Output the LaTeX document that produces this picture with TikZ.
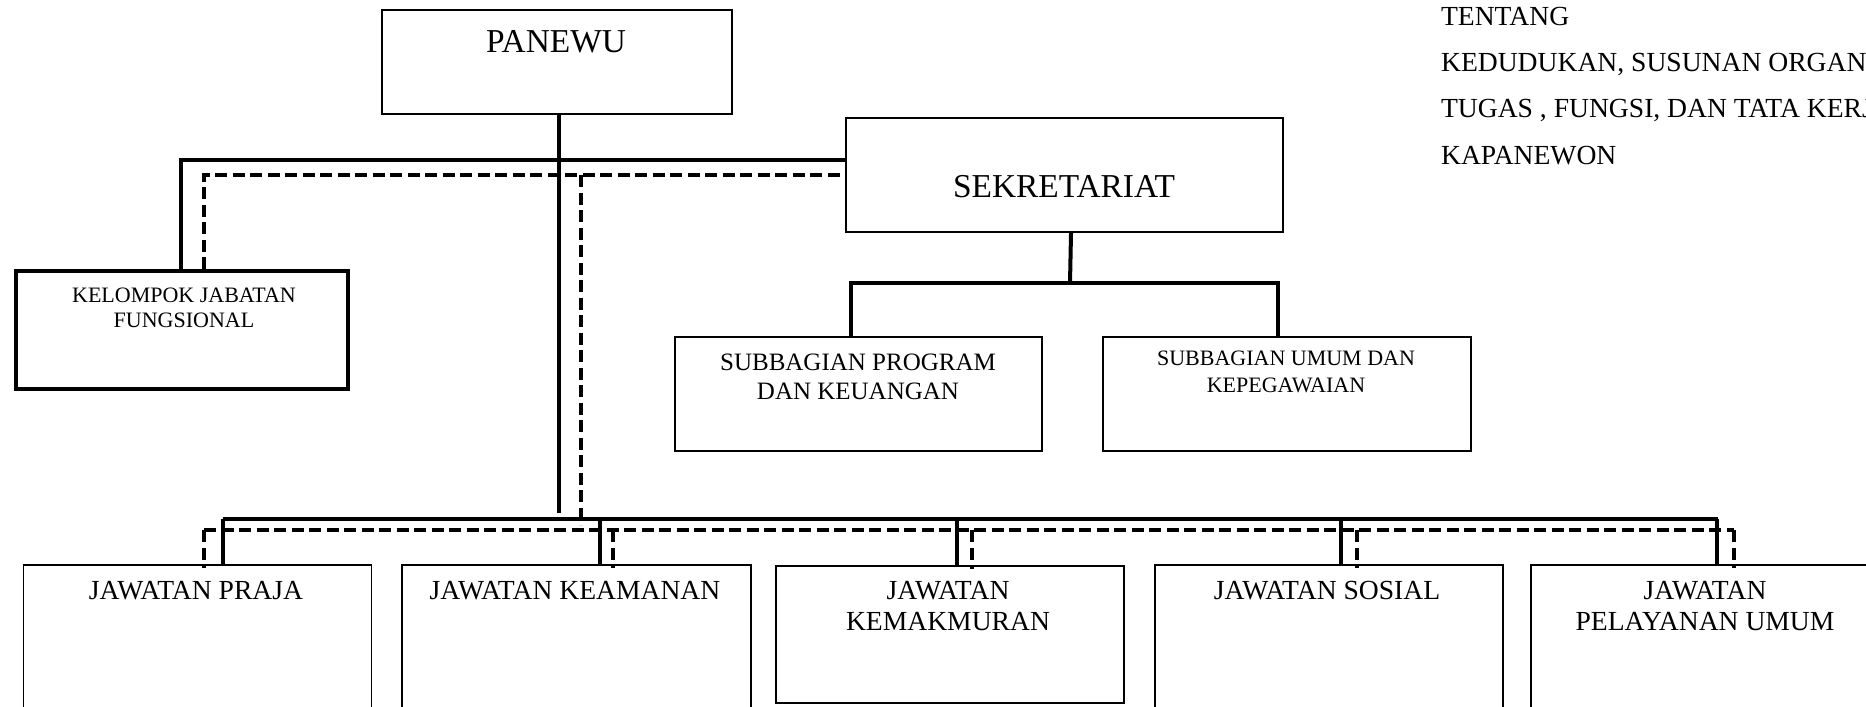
\documentclass[tikz,border=0pt]{standalone}
\usepackage{fontspec}
\setmainfont{Liberation Serif}
\usetikzlibrary{positioning}

\tikzset{
	kotak/.style={draw, line width=0.8pt, anchor=north west, inner sep=0pt},
	garis/.style={line width=2pt},
	putus/.style={line width=1.8pt, dash pattern=on 6pt off 2.75pt},
	tbesar/.style={font=\fontsize{16.7}{20}\selectfont},
	tjawatan/.style={align=center, font=\fontsize{13.8}{15.5}\selectfont},
}

\begin{document}
\begin{tikzpicture}[x=0.5pt,y=-0.5pt]
	\useasboundingbox (0,0) rectangle (1866,706);
	\clip (0,0) rectangle (1866,706);
	% kotak atas
	\node[kotak, minimum width=175pt, minimum height=52pt] (panewu) at (381,9.5) {};
	\node[kotak, line width=1pt, minimum width=218.5pt, minimum height=57pt] (sekr) at (845,117) {};
	\node[kotak, line width=2pt, minimum width=166pt, minimum height=59pt] (kjf) at (14,269) {};
	\node[kotak, minimum width=183.5pt, minimum height=57pt] (spk) at (674,336) {};
	\node[kotak, minimum width=184pt, minimum height=57pt] (suk) at (1102,336) {};
	% kotak jawatan
	\node[kotak, minimum width=174pt, minimum height=80pt] (praja) at (22.6,564) {};
	\node[kotak, minimum width=174.5pt, minimum height=80pt] (keamanan) at (401,564) {};
	\node[kotak, minimum width=174pt, minimum height=68.5pt] (kemakmuran) at (775,565) {};
	\node[kotak, minimum width=174pt, minimum height=80pt] (sosial) at (1154,564) {};
	\node[kotak, minimum width=174pt, minimum height=80pt] (pelayanan) at (1530,564) {};
	% teks
	\node[tbesar] (panewu-t) at (556,42) {PANEWU};
	\node[tbesar] (sekr-t) at (1064,187) {SEKRETARIAT};
	\node[align=center, font=\fontsize{11}{12.5}\selectfont] (kjf-t) at (184,307.5) {KELOMPOK JABATAN\\FUNGSIONAL};
	\node[align=center, font=\fontsize{12.5}{14.75}\selectfont] (spk-t) at (858,377) {SUBBAGIAN PROGRAM\\DAN KEUANGAN};
	\node[align=center, font=\fontsize{11}{13.75}\selectfont] (suk-t) at (1286,372) {SUBBAGIAN UMUM DAN\\KEPEGAWAIAN};
	\node[tjawatan] (praja-t) at (196,591) {JAWATAN PRAJA};
	\node[tjawatan] (keamanan-t) at (575,591) {JAWATAN KEAMANAN};
	\node[tjawatan] (kemakmuran-t) at (948,606.5) {JAWATAN\\KEMAKMURAN};
	\node[tjawatan] (sosial-t) at (1327,591) {JAWATAN SOSIAL};
	\node[tjawatan] (pelayanan-t) at (1705,606.5) {JAWATAN\\PELAYANAN UMUM};
	% judul kanan
	\node[tjawatan, anchor=base west] (judul1) at (1434,26) {TENTANG};
	\node[tjawatan, anchor=base west] (judul2) at (1434,72) {KEDUDUKAN, SUSUNAN ORGANISASI,};
	\node[tjawatan, anchor=base west] (judul3) at (1434,118) {TUGAS , FUNGSI, DAN TATA KERJA};
	\node[tjawatan, anchor=base west] (judul4) at (1434,164) {KAPANEWON};
	% garis
	\coordinate (atas) at (0,159.5);
	\coordinate (atasp) at (0,175);
	\coordinate (ujung) at (559,513);
	\coordinate (ujungp) at (581,525);
	\coordinate (cabang) at (1070,283);
	\draw[garis] ([xshift=-0.75pt]kjf.north) |- (atas -| sekr.west);
	\draw[putus] ([xshift=11pt]kjf.north) |- (atasp -| sekr.west);
	\draw[garis] (ujung |- panewu.south) -- (ujung);
	\draw[putus] (ujungp |- atasp) -- (ujungp);
	\draw[garis] ([xshift=3.25pt]sekr.south) -- (cabang);
	\draw[garis] ([xshift=-3.75pt]spk.north) |- (cabang) -| ([xshift=-4.5pt]suk.north);
	% garis bawah
	\draw[garis] (222.5,519) -- (1718,519);
	\draw[putus] (204,530) -- (1734,530);
	\draw[garis] (222.5,519) -- (222.5,519 |- praja.north);
	\draw[garis] (600,519) -- (600,519 |- keamanan.north);
	\draw[garis] (957,519) -- (957,519 |- kemakmuran.north);
	\draw[garis] (1341,519) -- (1341,519 |- sosial.north);
	\draw[garis] (1717,519) -- (1717,519 |- pelayanan.north);
	\draw[putus] (204,530) -- ([yshift=-2pt]204,530 |- praja.north);
	\draw[putus] (613,530) -- ([yshift=-2pt]613,530 |- keamanan.north);
	\draw[putus] (972,530) -- ([yshift=-2pt]972,530 |- kemakmuran.north);
	\draw[putus] (1357,530) -- ([yshift=-2pt]1357,530 |- sosial.north);
	\draw[putus] (1734,530) -- ([yshift=-2pt]1734,530 |- pelayanan.north);
\end{tikzpicture}
\end{document}
